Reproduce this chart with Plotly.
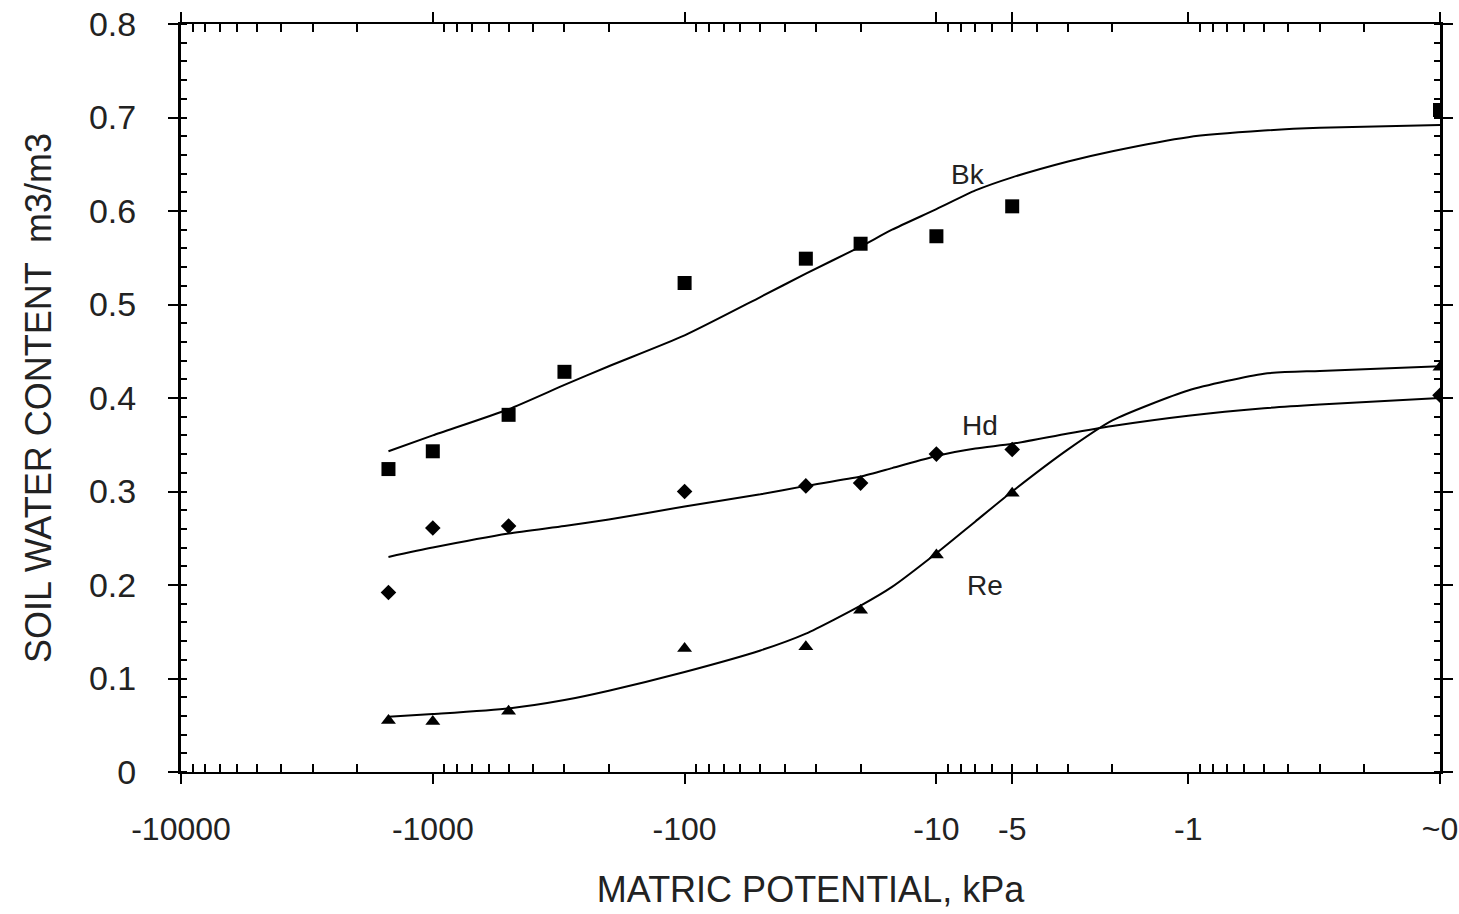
import plotly.graph_objects as go

# Matric potential magnitudes (kPa); "~0" plotted at 0.1 on the log axis
psi_obs = [1500, 1000, 500, 300, 100, 33, 20, 10, 5, 0.1]
bk_obs = [0.324, 0.343, 0.382, 0.428, 0.523, 0.549, 0.565, 0.573, 0.605, 0.708]

psi_hd_obs = [1500, 1000, 500, 100, 33, 20, 10, 5, 0.1]
hd_obs = [0.192, 0.261, 0.263, 0.300, 0.306, 0.309, 0.340, 0.345, 0.403]

psi_re_obs = [1500, 1000, 500, 100, 33, 20, 10, 5, 0.1]
re_obs = [0.055, 0.054, 0.065, 0.132, 0.134, 0.173, 0.232, 0.298, 0.433]

# Fitted curves
psi_fit = [1500, 1000, 500, 300, 200, 100, 50, 33, 20, 15, 10, 7, 5, 3, 2, 1, 0.5, 0.3, 0.1]
bk_fit = [0.343, 0.360, 0.388, 0.414, 0.434, 0.467, 0.508, 0.533, 0.562, 0.580, 0.602,
          0.622, 0.636, 0.653, 0.664, 0.679, 0.686, 0.689, 0.692]
hd_fit = [0.230, 0.240, 0.255, 0.263, 0.270, 0.284, 0.297, 0.306, 0.316, 0.325, 0.338,
          0.346, 0.351, 0.362, 0.370, 0.381, 0.389, 0.393, 0.400]
re_fit = [0.059, 0.062, 0.068, 0.077, 0.087, 0.107, 0.130, 0.148, 0.178, 0.198, 0.234,
          0.268, 0.300, 0.345, 0.376, 0.408, 0.426, 0.429, 0.434]

x_tickvals = [10000, 1000, 100, 10, 5, 1, 0.1]
x_ticktext = ["-10000", "-1000", "-100", "-10", "-5", "-1", "~0"]
y_tickvals = [0, 0.1, 0.2, 0.3, 0.4, 0.5, 0.6, 0.7, 0.8]
y_ticktext = ["0", "0.1", "0.2", "0.3", "0.4", "0.5", "0.6", "0.7", "0.8"]

minor_x = [m * 10 ** d for d in range(-1, 4) for m in range(2, 10)]

FONT = "Liberation Sans, Arial, sans-serif"
fig = go.Figure()

line_style = dict(color="black", width=2, shape="spline", smoothing=0.6)
fig.add_trace(go.Scatter(x=psi_fit, y=bk_fit, mode="lines", line=line_style, name="Bk fit"))
fig.add_trace(go.Scatter(x=psi_fit, y=hd_fit, mode="lines", line=line_style, name="Hd fit"))
fig.add_trace(go.Scatter(x=psi_fit, y=re_fit, mode="lines", line=line_style, name="Re fit"))

fig.add_trace(go.Scatter(x=psi_obs, y=bk_obs, mode="markers", name="Bk",
                         marker=dict(symbol="square", size=14, color="black")))
fig.add_trace(go.Scatter(x=psi_hd_obs, y=hd_obs, mode="markers", name="Hd",
                         marker=dict(symbol="diamond", size=12, color="black")))
fig.add_trace(go.Scatter(x=psi_re_obs, y=re_obs, mode="markers", name="Re",
                         marker=dict(symbol="triangle-up", size=13, color="black")))

for txt, lx, ly in [("Bk", 0.875, 0.639), ("Hd", 0.827, 0.371), ("Re", 0.807, 0.200)]:
    fig.add_annotation(x=lx, y=ly, text=txt, showarrow=False,
                       font=dict(family=FONT, size=28, color="#222"))

fig.update_layout(
    width=1459, height=914,
    paper_bgcolor="white", plot_bgcolor="white",
    showlegend=False,
    margin=dict(l=181, r=19, t=24, b=142, autoexpand=False),
    font=dict(family=FONT, color="#222"),
)

fig.update_xaxes(
    type="log", range=[4, -1], automargin=False,
    tickvals=x_tickvals, ticktext=x_ticktext,
    tickfont=dict(size=32, family=FONT, color="#222"),
    ticks="outside", ticklen=10, tickwidth=2, tickcolor="black",
    ticklabelstandoff=18, ticklabeloverflow="allow",
    showline=True, linecolor="black", linewidth=2, mirror="allticks",
    showgrid=False, zeroline=False,
    minor=dict(tickvals=minor_x, ticks="inside", ticklen=8, tickwidth=2,
               tickcolor="black", showgrid=False),
    title=dict(text="MATRIC POTENTIAL, kPa", font=dict(size=36, family=FONT, color="#222"),
               standoff=30),
)
fig.update_yaxes(
    range=[0, 0.8], automargin=False,
    tickvals=y_tickvals, ticktext=y_ticktext,
    tickfont=dict(size=34, family=FONT, color="#222"),
    ticks="outside", ticklen=10, tickwidth=2, tickcolor="black",
    ticklabelstandoff=25, ticklabeloverflow="allow",
    showline=True, linecolor="black", linewidth=3, mirror="allticks",
    showgrid=False, zeroline=False,
    minor=dict(dtick=0.02, ticks="inside", ticklen=6, tickwidth=2,
               tickcolor="black", showgrid=False),
    title=dict(text="SOIL WATER CONTENT  m3/m3", font=dict(size=36, family=FONT, color="#222"),
               standoff=27),
)

fig.write_html("out.html", config={"displayModeBar": False},
               post_script="document.body.style.margin='0px';")
